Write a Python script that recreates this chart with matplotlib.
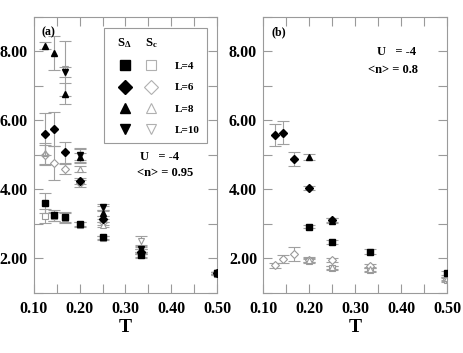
import matplotlib
matplotlib.use("Agg")
import matplotlib.pyplot as plt
from matplotlib.lines import Line2D
from matplotlib.legend_handler import HandlerTuple
from matplotlib.ticker import MultipleLocator, FormatStrFormatter

plt.rcParams["font.family"] = ["Liberation Serif", "DejaVu Serif"]
plt.rcParams["font.weight"] = "bold"
plt.rcParams["mathtext.fontset"] = "custom"
plt.rcParams["mathtext.rm"] = "Liberation Serif:bold"
plt.rcParams["mathtext.bf"] = "Liberation Serif:bold"
plt.rcParams["mathtext.it"] = "Liberation Serif:bold"

# lattice sizes and their markers
sizes = [4, 6, 8, 10]
markers = {4: "s", 6: "D", 8: "^", 10: "v"}

# ---- panel (a): U=-4, <n>=0.95 ----
# S_Delta (filled symbols): (T, value, error)
a_sd = {
    4: ([0.125, 0.1429, 0.1667, 0.2, 0.25, 0.3333, 0.5],
        [3.61, 3.25, 3.20, 3.00, 2.61, 2.10, 1.58],
        [0.30, 0.15, 0.15, 0.06, 0.05, 0.08, 0.04]),
    6: ([0.125, 0.1429, 0.1667, 0.2, 0.25, 0.3333, 0.5],
        [5.61, 5.75, 5.08, 4.25, 3.15, 2.20, 1.58],
        [0.60, 0.50, 0.30, 0.08, 0.08, 0.08, 0.04]),
    8: ([0.125, 0.1429, 0.1667, 0.2, 0.25, 0.3333, 0.5],
        [8.17, 7.95, 6.78, 4.95, 3.32, 2.25, 1.58],
        [0.10, 0.50, 0.30, 0.10, 0.08, 0.08, 0.04]),
    10: ([0.1667, 0.2, 0.25, 0.3333, 0.5],
         [7.41, 5.00, 3.49, 2.27, 1.58],
         [0.15, 0.20, 0.08, 0.08, 0.04]),
}
# S_c (open symbols)
a_sc = {
    4: ([0.125, 0.1429, 0.1667, 0.2, 0.25, 0.3333, 0.5],
        [3.24, 3.22, 3.18, 2.98, 2.60, 2.12, 1.56],
        [0.20, 0.12, 0.15, 0.08, 0.05, 0.08, 0.04]),
    6: ([0.125, 0.1429, 0.1667, 0.2, 0.25, 0.3333, 0.5],
        [5.00, 4.77, 4.60, 4.18, 3.05, 2.20, 1.57],
        [0.30, 0.50, 0.15, 0.10, 0.08, 0.08, 0.04]),
    8: ([0.125, 0.2, 0.25, 0.3333, 0.5],
        [5.05, 4.60, 2.98, 2.20, 1.58],
        [0.30, 0.08, 0.08, 0.08, 0.04]),
    10: ([0.1667, 0.2, 0.25, 0.3333, 0.5],
         [7.50, 4.98, 3.45, 2.52, 1.58],
         [0.80, 0.20, 0.08, 0.12, 0.04]),
}

# ---- panel (b): U=-4, <n>=0.8 ----
b_sd = {
    4: ([0.2, 0.25, 0.3333, 0.5],
        [2.92, 2.48, 2.20, 1.58],
        [0.05, 0.05, 0.08, 0.05]),
    6: ([0.125, 0.1429, 0.1667, 0.2, 0.25],
        [5.59, 5.64, 4.89, 4.04, 3.12],
        [0.32, 0.33, 0.20, 0.05, 0.06]),
    8: ([0.2, 0.25],
        [4.94, 3.10],
        [0.10, 0.06]),
}
b_sc = {
    4: ([0.2, 0.25, 0.3333, 0.5],
        [1.93, 1.72, 1.66, 1.38],
        [0.06, 0.05, 0.06, 0.05]),
    6: ([0.125, 0.1429, 0.1667, 0.2, 0.25, 0.3333, 0.5],
        [1.80, 1.99, 2.14, 1.97, 1.96, 1.77, 1.40],
        [0.08, 0.12, 0.20, 0.06, 0.06, 0.06, 0.05]),
    8: ([0.2, 0.25, 0.3333, 0.5],
        [1.95, 1.74, 1.70, 1.42],
        [0.06, 0.05, 0.06, 0.05]),
}

ERR_COLOR = "#a0a0a0"
OPEN_COLOR = "#9a9a9a"
SPINE_COLOR = "#9a9a9a"


def draw_panel(ax, sd, sc):
    for L, (t, v, e) in sc.items():
        ax.errorbar(t, v, yerr=e, fmt=markers[L], ms=4.5, mfc="white", mec=OPEN_COLOR,
                    mew=0.8, ecolor=ERR_COLOR, elinewidth=0.8, capsize=4, capthick=0.8, zorder=2)
    for L, (t, v, e) in sd.items():
        ax.errorbar(t, v, yerr=e, fmt=markers[L], ms=4.5, mfc="black", mec="black",
                    ecolor=ERR_COLOR, elinewidth=0.8, capsize=4, capthick=0.8, zorder=3)

    ax.set_xlim(0.1, 0.5)
    ax.set_ylim(1.0, 9.0)
    ax.xaxis.set_major_locator(MultipleLocator(0.1))
    ax.xaxis.set_minor_locator(MultipleLocator(0.05))
    ax.yaxis.set_major_locator(MultipleLocator(2.0))
    ax.yaxis.set_minor_locator(MultipleLocator(1.0))
    ax.xaxis.set_major_formatter(FormatStrFormatter("%.2f"))
    ax.yaxis.set_major_formatter(FormatStrFormatter("%.2f"))
    ax.tick_params(which="both", direction="in", top=True, right=True, color=SPINE_COLOR,
                   width=0.8, length=6.5, labelsize=11.5)
    ax.tick_params(axis="y", pad=4.5)
    ax.tick_params(axis="x", pad=6)
    for lab in ax.get_xticklabels() + ax.get_yticklabels():
        lab.set_fontweight("bold")
    for sp in ax.spines.values():
        sp.set_color(SPINE_COLOR)
        sp.set_linewidth(0.8)
    ax.set_xlabel("T", fontsize=14, fontweight="bold", labelpad=1)


fig = plt.figure(figsize=(4.63, 3.53), dpi=100)
ax_a = fig.add_axes([0.0734, 0.170, 0.3953, 0.782])
ax_b = fig.add_axes([0.5687, 0.170, 0.3968, 0.782])

draw_panel(ax_a, a_sd, a_sc)
draw_panel(ax_b, b_sd, b_sc)

ax_a.text(0.04, 0.946, "(a)", transform=ax_a.transAxes, fontsize=8.5, fontweight="bold", va="center")
ax_b.text(0.045, 0.946, "(b)", transform=ax_b.transAxes, fontsize=8.5, fontweight="bold", va="center")

ax_a.text(0.579, 0.491, "U   = -4", transform=ax_a.transAxes, fontsize=9, fontweight="bold", va="center")
ax_a.text(0.565, 0.435, "<n> = 0.95", transform=ax_a.transAxes, fontsize=9, fontweight="bold", va="center")
ax_b.text(0.617, 0.873, "U   = -4", transform=ax_b.transAxes, fontsize=9, fontweight="bold", va="center")
ax_b.text(0.572, 0.806, "<n> = 0.8", transform=ax_b.transAxes, fontsize=9, fontweight="bold", va="center")

# legend: filled (S_Delta) and open (S_c) symbol pairs for each L
handles = []
for L in sizes:
    filled = Line2D([], [], ls="none", marker=markers[L], ms=7.5, mfc="black", mec="black")
    opened = Line2D([], [], ls="none", marker=markers[L], ms=7.5, mfc="white", mec="#b0b0b0", mew=0.8)
    handles.append((filled, opened))
labels = [f"L={L}" for L in sizes]
leg = ax_a.legend(handles, labels, handler_map={tuple: HandlerTuple(ndivide=None, pad=0.0)},
                  loc="upper left", bbox_to_anchor=(0.35, 0.98), frameon=True, fancybox=False,
                  edgecolor=SPINE_COLOR, framealpha=1, fontsize=8, handlelength=4.8,
                  handletextpad=0.9, labelspacing=1.05, borderpad=0.7,
                  title=r"  $S_{\Delta}$     $S_{c}$", title_fontsize=9,
                  alignment="left")
leg.get_frame().set_linewidth(0.8)
for txt in leg.get_texts():
    txt.set_fontweight("bold")

fig.savefig("out.png", dpi=100)
